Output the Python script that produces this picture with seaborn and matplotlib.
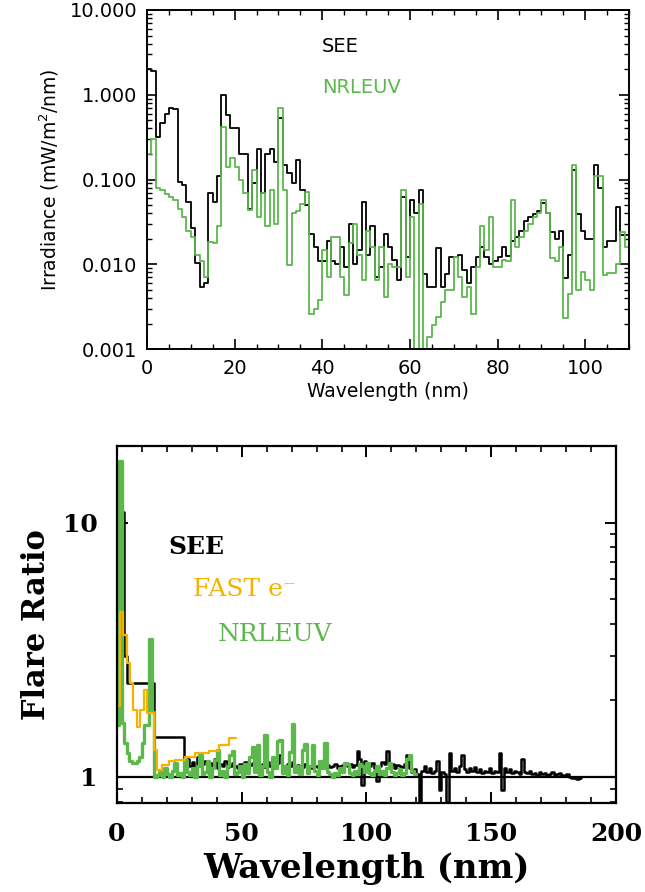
import numpy as np
import matplotlib
matplotlib.use("Agg")
import matplotlib.pyplot as plt
import matplotlib.ticker as mticker
import seaborn as sns

# ---------------- data ----------------
# top panel: irradiance in 1-nm bins, 0..110 nm
top_edges = np.arange(0, 111)
see_irr = [
    2.0, 1.9, 0.32, 0.46, 0.6, 0.7, 0.68, 0.093, 0.085, 0.055,
    0.027, 0.0103, 0.0054, 0.006, 0.07, 0.055, 0.11, 1.0, 0.58, 0.41,
    0.41, 0.2, 0.2, 0.045, 0.09, 0.23, 0.07, 0.2, 0.23, 0.16,
    0.53, 0.15, 0.118, 0.09, 0.17, 0.075, 0.05, 0.023, 0.016, 0.011,
    0.011, 0.019, 0.011, 0.0102, 0.016, 0.0093, 0.03, 0.0102, 0.0147, 0.055,
    0.013, 0.028, 0.0071, 0.0093, 0.023, 0.016, 0.0112, 0.0065, 0.062, 0.0123,
    0.057, 0.04, 0.075, 0.0077, 0.0054, 0.0054, 0.0155, 0.0054, 0.0077, 0.0123,
    0.0123, 0.013, 0.0085, 0.006, 0.0093, 0.0123, 0.016, 0.0123, 0.0102, 0.011,
    0.0123, 0.016, 0.0125, 0.019, 0.021, 0.025, 0.032, 0.036, 0.039, 0.043,
    0.053, 0.04, 0.024, 0.02, 0.025, 0.0068, 0.013, 0.13, 0.039, 0.025,
    0.02, 0.02, 0.15, 0.08, 0.016, 0.019, 0.019, 0.047, 0.022, 0.022,
]
nrl_irr = [
    0.2, 0.3, 0.079, 0.075, 0.068, 0.063, 0.057, 0.045, 0.036, 0.025,
    0.021, 0.013, 0.011, 0.0071, 0.0185, 0.018, 0.028, 0.42, 0.14, 0.18,
    0.14, 0.1, 0.07, 0.044, 0.13, 0.036, 0.07, 0.028, 0.075, 0.03,
    0.69, 0.075, 0.0097, 0.04, 0.043, 0.052, 0.072, 0.0026, 0.003, 0.0038,
    0.0147, 0.0071, 0.021, 0.021, 0.0071, 0.0043, 0.018, 0.03, 0.0128, 0.0065,
    0.025, 0.016, 0.0065, 0.016, 0.0041, 0.0102, 0.0093, 0.0093, 0.075, 0.0071,
    0.036, 0.0005, 0.052, 0.0005, 0.0014, 0.0019, 0.0024, 0.0036, 0.005, 0.005,
    0.0123, 0.0071, 0.0041, 0.0054, 0.0026, 0.0093, 0.028, 0.0147, 0.036, 0.0093,
    0.0093, 0.0112, 0.011, 0.057, 0.016, 0.021, 0.025, 0.03, 0.036, 0.04,
    0.057, 0.04, 0.012, 0.011, 0.016, 0.0023, 0.0045, 0.15, 0.005, 0.008,
    0.0065, 0.005, 0.11, 0.11, 0.0075, 0.0078, 0.0078, 0.01, 0.024, 0.016,
]

# bottom panel: flare ratios
see_ratio_edges = [0, 3, 4, 15] + list(range(27, 187))
see_ratio = [11.0, 3.0, 2.35, 1.43] + [
    1.12, 1.18, 1.1, 1.14, 1.08, 1.2, 1.1, 1.12, 1.16, 1.09,
    1.13, 1.1, 1.18, 1.08, 1.12, 1.1, 1.15, 1.09, 1.1, 1.13,
    1.1, 1.08, 1.12, 1.1, 1.14, 1.09, 1.11, 1.13, 1.08, 1.2,
    1.1, 1.12, 1.09, 1.14, 1.1, 1.12, 1.08, 1.13, 1.22, 1.1,
    1.09, 1.12, 1.1, 1.14, 1.08, 1.11, 1.1, 1.09, 1.12, 1.1,
    1.08, 1.11, 1.1, 1.09, 1.12, 1.08, 1.1, 1.11, 1.09, 1.1,
    1.12, 1.08, 1.1, 1.11, 1.13, 1.1, 1.12, 1.09, 1.11, 1.26,
    1.18, 0.93, 1.15, 1.12, 1.1, 1.13, 1.08, 0.96, 1.1, 1.14,
    1.12, 1.26, 1.1, 1.12, 1.08, 1.11, 1.1, 1.09, 1.12, 1.22,
    1.08, 1.05, 1.07, 1.03, 0.8, 1.06, 1.1, 1.05, 1.08, 1.04,
    1.06, 1.15, 0.89, 1.05, 1.03, 0.8, 1.24, 1.06, 1.08, 1.05,
    1.1, 1.22, 1.07, 1.05, 1.08, 1.06, 1.09, 1.05, 1.07, 1.04,
    1.06, 1.05, 1.08, 1.04, 1.06, 1.05, 1.24, 0.89, 1.08, 1.05,
    1.07, 1.04, 1.06, 1.05, 1.03, 1.18, 1.05, 1.04, 1.06, 1.03,
    1.04, 1.02, 1.05, 1.03, 1.04, 1.02, 1.03, 1.05, 1.02, 1.03,
    1.04, 1.02, 1.01, 1.03, 1.0, 0.99, 1.0, 0.98, 0.99,
]

fast_edges = [0.8, 1.3, 2.6, 3.9, 5.3, 6.6, 8.0, 9.3, 10.7, 12.0, 13.3, 14.7,
              16.0, 18.0, 20.7, 23.3, 27.4, 31.4, 36.7, 40.8, 44.8, 47.5]
fast_ratio = [1.9, 4.45, 3.6, 2.8, 2.33, 1.83, 1.57, 1.83, 2.19, 1.78, 1.78,
              1.28, 1.065, 1.11, 1.15, 1.17, 1.2, 1.24, 1.26, 1.33, 1.42]

nrl_ratio_edges = np.arange(0, 121)
nrl_ratio = [
    1.6, 17.5, 1.63, 1.36, 1.24, 1.15, 1.13, 1.13, 1.15, 1.2,
    1.36, 1.6, 1.6, 3.5, 1.8,
    1.0, 1.02, 1.05, 1.0, 1.08, 1.03, 1.0, 1.06, 1.13, 1.02,
    1.04, 1.0, 1.17, 1.05, 1.02, 1.08, 1.0, 1.1, 1.22, 1.03,
    1.05, 1.15, 1.0, 1.08, 1.17, 1.28, 1.02, 1.06, 1.0, 1.1,
    1.22, 1.27, 1.03, 1.05, 1.1, 1.0, 1.12, 1.04, 1.2, 1.31,
    1.05, 1.33, 1.02, 1.1, 1.46, 1.05, 1.0, 1.2, 1.08, 1.38,
    1.4, 1.04, 1.1, 1.02, 1.25, 1.62, 1.05, 1.1, 1.03, 1.28,
    1.35, 1.04, 1.1, 1.33, 1.06, 1.02, 1.15, 1.08, 1.36, 1.05,
    1.03, 1.0, 1.04, 1.02, 1.08, 1.05, 1.13, 1.12, 1.04, 1.02,
    1.06, 1.03, 1.12, 1.1, 1.05, 1.13, 1.04, 1.02, 1.06, 1.1,
    1.03, 1.06, 1.02, 1.08, 1.13, 1.05, 1.02, 1.04, 1.07, 1.02,
    1.04, 1.18, 1.22, 1.06, 1.03,
]

GREEN = "#5cb84c"
ORANGE = "#f5b300"


def steps(ax, edges, vals, color, lw):
    # close the last bin by repeating its value at the right edge
    y = list(vals) + [vals[-1]]
    sns.lineplot(x=list(edges), y=y, ax=ax, color=color, linewidth=lw,
                 drawstyle="steps-post", estimator=None, sort=False)


sns.set_theme(style="ticks")
plt.rcParams["font.family"] = ["DejaVu Sans"]
plt.rcParams["mathtext.fontset"] = "dejavusans"
plt.rcParams["text.color"] = "black"
plt.rcParams["axes.labelcolor"] = "black"

fig = plt.figure(figsize=(6.45, 8.92), dpi=100)

# ---------------- top panel ----------------
ax1 = fig.add_axes([0.2279, 0.6087, 0.7473, 0.3801])
steps(ax1, top_edges, see_irr, "black", 1.3)
steps(ax1, top_edges, nrl_irr, GREEN, 1.3)
ax1.set_yscale("log")
ax1.set_xlim(0, 110)
ax1.set_ylim(0.001, 10)
ax1.xaxis.set_major_locator(mticker.MultipleLocator(20))
ax1.xaxis.set_minor_locator(mticker.MultipleLocator(5))
ax1.yaxis.set_major_locator(mticker.FixedLocator([0.001, 0.01, 0.1, 1, 10]))
ax1.yaxis.set_major_formatter(mticker.FormatStrFormatter("%.3f"))
ax1.yaxis.set_minor_locator(mticker.LogLocator(base=10, subs=np.arange(2, 10)))
ax1.yaxis.set_minor_formatter(mticker.NullFormatter())
ax1.tick_params(which="both", direction="in", top=True, right=True,
                labelsize=14, colors="black")
ax1.tick_params(which="major", length=7, width=1.2, pad=7)
ax1.tick_params(which="minor", length=3.5, width=1.0)
for s in ax1.spines.values():
    s.set_linewidth(1.4)
    s.set_color("black")
ax1.set_xlabel("Wavelength (nm)", fontsize=13.5, labelpad=3, color="black")
ax1.set_ylabel("Irradiance (mW/m$^2$/nm)", fontsize=13.5, labelpad=6,
               color="black")
ax1.text(0.363, 0.891, "SEE", transform=ax1.transAxes, fontsize=14,
         color="black", va="center")
ax1.text(0.363, 0.77, "NRLEUV", transform=ax1.transAxes, fontsize=14,
         color=GREEN, va="center")

# ---------------- bottom panel ----------------
serif = ["DejaVu Serif"]
ax2 = fig.add_axes([0.1814, 0.0998, 0.7736, 0.4002])
ax2.axhline(1.0, color="black", linewidth=1.6)
steps(ax2, see_ratio_edges, see_ratio, "black", 1.8)
steps(ax2, nrl_ratio_edges, nrl_ratio, GREEN, 2.4)
steps(ax2, fast_edges, fast_ratio, ORANGE, 1.6)
ax2.set_yscale("log")
ax2.set_xlim(0, 200)
ax2.set_ylim(0.79, 20)
ax2.xaxis.set_major_locator(mticker.MultipleLocator(50))
ax2.xaxis.set_minor_locator(mticker.MultipleLocator(10))
ax2.yaxis.set_major_locator(mticker.FixedLocator([1, 10]))
ax2.yaxis.set_major_formatter(mticker.FuncFormatter(lambda v, p: f"{v:g}"))
ax2.yaxis.set_minor_locator(mticker.LogLocator(base=10, subs=np.arange(2, 10)))
ax2.yaxis.set_minor_formatter(mticker.NullFormatter())
ax2.tick_params(which="both", direction="in", top=True, right=True,
                colors="black")
ax2.tick_params(which="major", length=8, width=1.4, pad=14)
ax2.tick_params(which="minor", length=4.5, width=1.2)
for lab in ax2.get_xticklabels() + ax2.get_yticklabels():
    lab.set_family(serif)
    lab.set_fontsize(18)
    lab.set_fontweight("bold")
for s in ax2.spines.values():
    s.set_linewidth(1.6)
    s.set_color("black")
ax2.set_xlabel("Wavelength (nm)", fontsize=24.5, fontweight="bold",
               family=serif, labelpad=4, color="black")
ax2.set_ylabel("Flare Ratio", fontsize=22, fontweight="bold",
               family=serif, labelpad=8, color="black")
ax2.text(0.102, 0.717, "SEE", transform=ax2.transAxes, fontsize=18,
         fontweight="bold", family=serif, color="black", va="center")
ax2.text(0.152, 0.597, "FAST e\u207b", transform=ax2.transAxes, fontsize=18,
         family=serif, color=ORANGE, va="center")
ax2.text(0.202, 0.471, "NRLEUV", transform=ax2.transAxes, fontsize=18,
         family=serif, color=GREEN, va="center")

fig.savefig("out.png", dpi=100)
